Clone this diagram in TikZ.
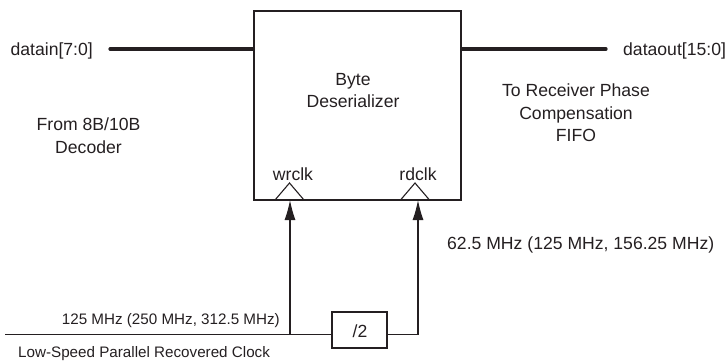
\documentclass[tikz,border=0pt]{standalone}
\usepackage{fontspec}
\setmainfont{Liberation Sans}
\usetikzlibrary{arrows.meta}
\definecolor{ink}{rgb}{0.14,0.12,0.13}
\begin{document}
\begin{tikzpicture}[x=1bp,y=-1bp,
  lbl/.style={inner sep=0pt,text=ink,font=\fontsize{17.6bp}{22.5bp}\selectfont,align=center},
  lblsmall/.style={inner sep=0pt,text=ink,font=\fontsize{15.2bp}{19bp}\selectfont},
  blk/.style={draw=ink,line width=1.2bp,inner sep=0pt},
  bus/.style={draw=ink,line width=3.2bp,line cap=round},
  clk/.style={draw=ink,line width=1.2bp},
  clkarrow/.style={clk,-{Latex[length=20bp,width=11bp]}},
  edgetri/.style={draw=ink,line width=1.1bp,line join=miter}]
\useasboundingbox (0,0) rectangle (728,361);
% main block
\node[blk,minimum width=207bp,minimum height=189bp] (des) at (357.5,105.5) {};
\node[lbl] (destext) at (353,90.5) {Byte\\Deserializer};
% data buses
\coordinate (inL) at (110,49);
\coordinate (outR) at (606,49);
\draw[bus] (inL) -- (inL -| des.west);
\draw[bus] (outR -| des.east) -- (outR);
\node[lbl,anchor=base east] (datain) at (93,55.5) {datain[7:0]};
\node[lbl,anchor=base west] (dataout) at (623,55.5) {dataout[15:0]};
\node[lbl] (from) at (88.5,135.5) {From 8B/10B\\Decoder};
\node[lbl] (to) at (576,113) {To Receiver Phase\\Compensation\\FIFO};
% clock inputs
\coordinate (wr) at (290,200);
\coordinate (rd) at (418,200);
\draw[edgetri] (275,200) -- (289.5,183) -- (304,200);
\draw[edgetri] (400.5,200) -- (415,183) -- (429.5,200);
\node[lbl,anchor=base] (wrclk) at (293,180) {wrclk};
\node[lbl,anchor=base] (rdclk) at (418,180) {rdclk};
% clock path
\coordinate (clkin) at (5,334.5);
\coordinate (j1) at (290,334.5);
\coordinate (c2) at (418,334.5);
\node[blk,minimum width=55bp,minimum height=36bp] (div) at (359.5,330) {};
\node[lbl] (divtext) at (360,331) {/2};
\draw[clk] (clkin) -- (j1) -- (j1 -| div.west);
\draw[clk] (c2 -| div.east) -- (c2);
\draw[clkarrow] (j1) -- (wr);
\draw[clkarrow] (c2) -- (rd);
\node[lblsmall,anchor=base east] (f1) at (280,324) {125 MHz (250 MHz, 312.5 MHz)};
\node[lblsmall,anchor=base west] (f3) at (18,357.5) {Low-Speed Parallel Recovered Clock};
\node[lbl,anchor=base west] (f2) at (447,249.5) {62.5 MHz (125 MHz, 156.25 MHz)};
\end{tikzpicture}
\end{document}
